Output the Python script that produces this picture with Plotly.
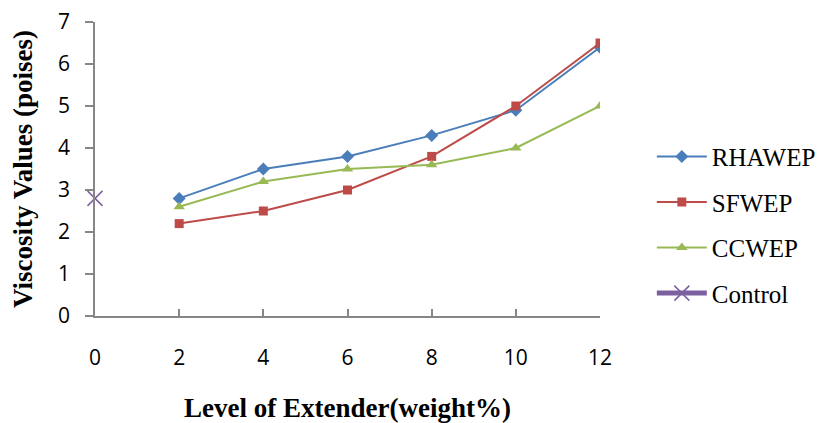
import plotly.graph_objects as go

levels = [2, 4, 6, 8, 10, 12]
rhawep = [2.8, 3.5, 3.8, 4.3, 4.9, 6.4]
sfwep = [2.2, 2.5, 3.0, 3.8, 5.0, 6.5]
ccwep = [2.6, 3.2, 3.5, 3.6, 4.0, 5.0]
control_x = [0]
control_y = [2.8]

fig = go.Figure()
fig.add_trace(go.Scatter(x=levels, y=rhawep, name="RHAWEP", mode="lines+markers",
                         line=dict(color="#4A7EBB", width=2),
                         marker=dict(symbol="diamond", size=10, color="#4A7EBB"),
                         legendgroup="a"))
fig.add_trace(go.Scatter(x=levels, y=sfwep, name="SFWEP", mode="lines+markers",
                         line=dict(color="#BE4B48", width=2),
                         marker=dict(symbol="square", size=9, color="#BE4B48"),
                         legendgroup="b"))
fig.add_trace(go.Scatter(x=levels, y=ccwep, name="CCWEP", mode="lines+markers",
                         line=dict(color="#98B954", width=2),
                         marker=dict(symbol="triangle-up", size=10, color="#98B954"),
                         legendgroup="c"))
fig.add_trace(go.Scatter(x=control_x, y=control_y, name="Control", mode="lines+markers",
                         line=dict(color="#7D60A0", width=5),
                         marker=dict(symbol="x-thin-open", size=15, color="#7D60A0",
                                     line=dict(color="#7D60A0", width=1.5)),
                         cliponaxis=False, legendgroup="d"))

axis_common = dict(showgrid=False, zeroline=False, showline=True, linecolor="#868686",
                   linewidth=1.5, tickcolor="#868686", tickwidth=1.5, automargin=False,
                   ticklabeloverflow="allow",
                   tickfont=dict(family="Open Sans", size=21, color="#000"))

fig.update_xaxes(range=[0, 12], dtick=2, tick0=0, ticks="inside", ticklen=7,
                 ticklabelstandoff=22,
                 title=dict(text="<b>Level of Extender(weight%)</b>",
                            font=dict(family="Liberation Serif", size=27, color="#000"),
                            standoff=33),
                 **axis_common)
fig.update_yaxes(range=[0, 7], dtick=1, tick0=0, ticks="outside", ticklen=8,
                 ticklabelstandoff=11,
                 title=dict(text="<b>Viscosity Values (poises)</b>",
                            font=dict(family="Liberation Serif", size=27, color="#000"),
                            standoff=18),
                 **axis_common)

# page body has an 8px margin, so the figure is sized/placed to compensate
fig.update_layout(
    width=816, height=415,
    margin=dict(l=87, r=224, t=14, b=107),
    plot_bgcolor="white", paper_bgcolor="white",
    legend=dict(x=0.789, xref="container", y=0.31, yref="paper",
                xanchor="left", yanchor="middle",
                font=dict(family="Liberation Serif", size=25, color="#000"),
                tracegroupgap=10, itemwidth=50, bgcolor="rgba(0,0,0,0)"),
)

fig.write_html("out.html")
